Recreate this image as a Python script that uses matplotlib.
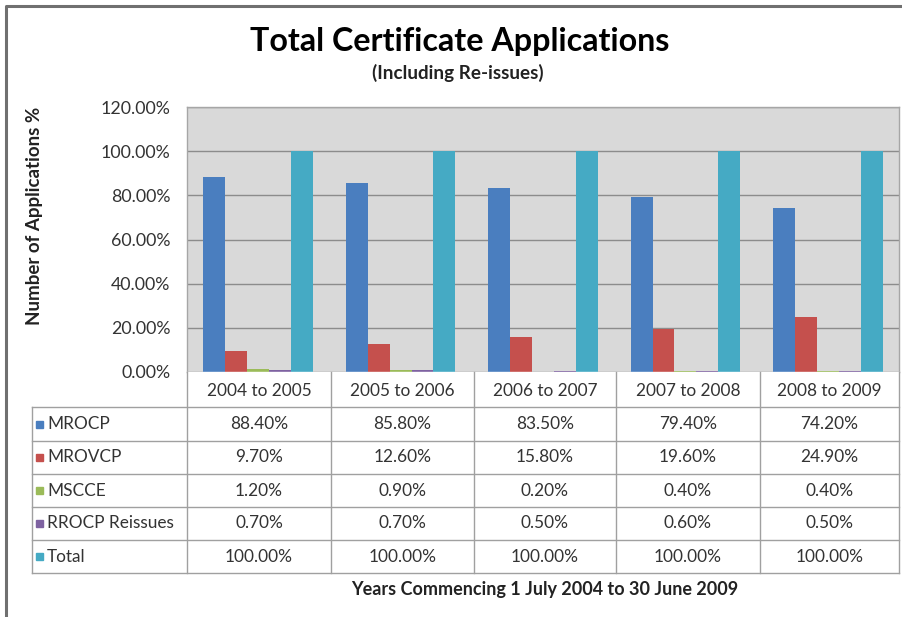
import matplotlib
matplotlib.use("Agg")
import matplotlib.pyplot as plt
from matplotlib.ticker import FuncFormatter

plt.rcParams['font.family'] = ['Lato', 'DejaVu Sans']

years = ["2004 to 2005", "2005 to 2006", "2006 to 2007", "2007 to 2008", "2008 to 2009"]
series_names = ["MROCP", "MROVCP", "MSCCE", "RROCP Reissues", "Total"]
mrocp = [88.4, 85.8, 83.5, 79.4, 74.2]
mrovcp = [9.7, 12.6, 15.8, 19.6, 24.9]
mscce = [1.2, 0.9, 0.2, 0.4, 0.4]
rrocp = [0.7, 0.7, 0.5, 0.6, 0.5]
total = [100.0, 100.0, 100.0, 100.0, 100.0]
colors = ["#4A7EBF", "#C5504D", "#9BBB59", "#7E62A1", "#45AAC4"]

W, H = 903, 617


def fx(px):
    return px / W


def fy(py):
    return 1 - py / H


fig = plt.figure(figsize=(W / 100, H / 100), dpi=100)
fig.patch.set_facecolor("white")

# frame around the chart
frame = fig.add_axes([0, 0, 1, 1], zorder=0)
frame.set_xlim(0, W)
frame.set_ylim(H, 0)
frame.axis("off")
frame.plot([6, 6, W], [H, 5.5, 5.5], color="#707070", lw=2.2, solid_capstyle="butt")

# bar chart
left, right, top, bottom = 187, 899, 107, 372
ax = fig.add_axes([fx(left), fy(bottom), fx(right - left), (bottom - top) / H], zorder=2)
ax.set_facecolor("#D9D9D9")
bw = 0.154
all_series = [mrocp, mrovcp, mscce, rrocp, total]
for i, (vals, c) in enumerate(zip(all_series, colors)):
    xs = [k + (i - 2) * bw for k in range(len(years))]
    ax.bar(xs, [v / 100 for v in vals], width=bw, color=c, zorder=3)
ax.set_xlim(-0.5, 4.5)
ax.set_ylim(0, 1.2)
ax.set_yticks([0, 0.2, 0.4, 0.6, 0.8, 1.0, 1.2])
ax.yaxis.set_major_formatter(FuncFormatter(lambda v, p: f"{v * 100:.2f}%"))
ax.tick_params(axis="y", length=0, pad=12, labelsize=12.8, labelcolor="#333333")
ax.set_xticks([])
ax.grid(axis="y", color="#8C8C8C", lw=1, zorder=1)
for s in ax.spines.values():
    s.set_color("#A6A6A6")
    s.set_linewidth(1)

# data table under the chart
tab = fig.add_axes([0, 0, 1, 1], zorder=3)
tab.set_xlim(0, W)
tab.set_ylim(H, 0)
tab.axis("off")
tab.patch.set_alpha(0)
col_x = [187, 331, 474, 616, 760, 899]
row_y = [372, 407, 441, 474, 507, 540, 573]
lc = "#A0A0A0"
fs = 12.4
tab.fill_between([187, 899], 372, 407, color="white", zorder=0)
for y in row_y[1:]:
    tab.plot([32, 899], [y, y], color=lc, lw=1)
for x in col_x:
    tab.plot([x, x], [372, 573], color=lc, lw=1)
tab.plot([32, 32], [407, 573], color=lc, lw=1)

for j, yr in enumerate(years):
    cx = (col_x[j] + col_x[j + 1]) / 2
    tab.text(cx, (row_y[0] + row_y[1]) / 2 + 1, yr, ha="center", va="center",
             fontsize=fs, color="#333333")
for i, (name, vals, c) in enumerate(zip(series_names, all_series, colors)):
    cy = (row_y[i + 1] + row_y[i + 2]) / 2
    tab.add_patch(plt.Rectangle((36, cy - 3.5), 7, 7, color=c))
    tab.text(47, cy, name, ha="left", va="center", fontsize=fs, color="#333333")
    for j, v in enumerate(vals):
        cx = (col_x[j] + col_x[j + 1]) / 2
        tab.text(cx, cy, f"{v:.2f}%", ha="center", va="center",
                 fontsize=fs, color="#333333")

# titles
tab.text(460, 42, "Total Certificate Applications", ha="center", va="center",
         fontsize=23.2, fontweight="bold", color="black")
tab.text(458, 73, "(Including Re-issues)", ha="center", va="center",
         fontsize=13.6, fontweight="bold", color="#222222")
tab.text(35, 216, "Number of Applications %", ha="center", va="center",
         rotation=90, fontsize=13.5, fontweight="bold", color="#222222")
tab.text(545, 590, "Years Commencing 1 July 2004 to 30 June 2009", ha="center",
         va="center", fontsize=13, fontweight="bold", color="#222222")

fig.savefig("out.png", dpi=100)
